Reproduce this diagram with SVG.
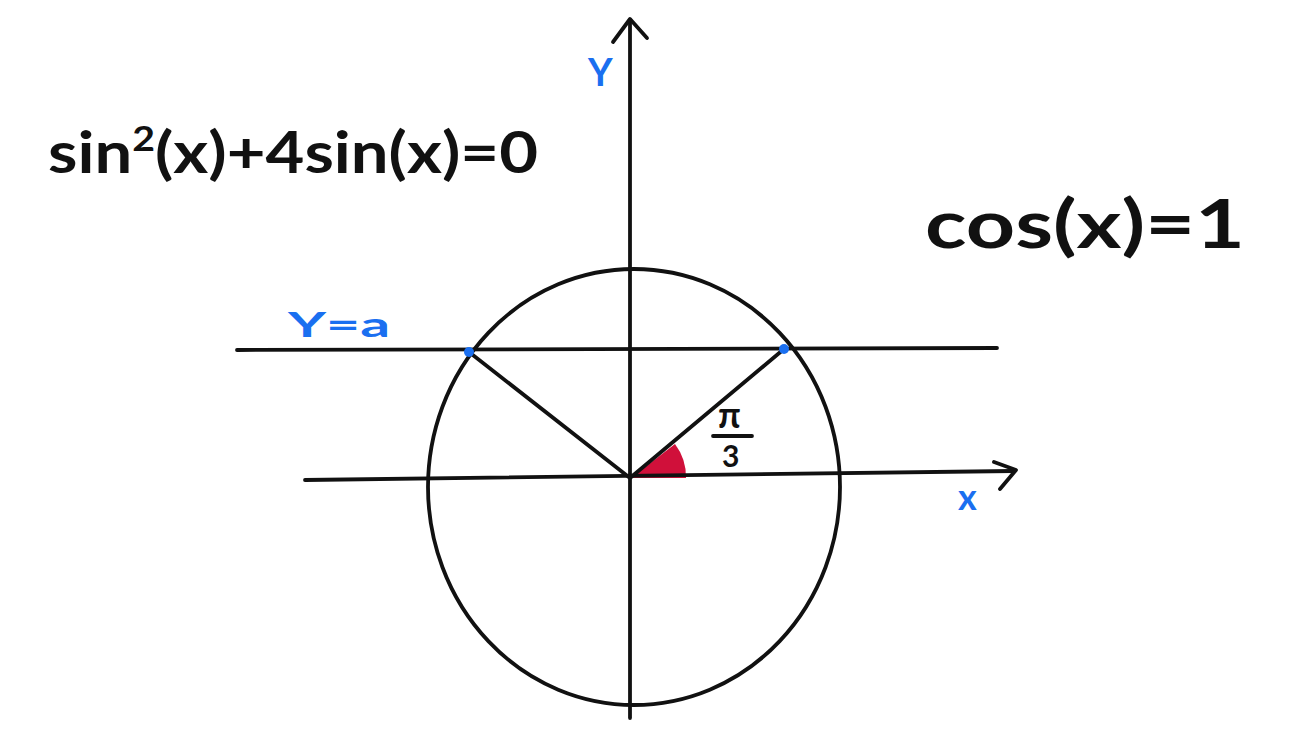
<svg xmlns="http://www.w3.org/2000/svg" width="1310" height="750" viewBox="0 0 1310 750">
<style>
.ln{stroke:#111;stroke-width:3.8;fill:none;stroke-linecap:round;stroke-linejoin:round}
.blk{font-family:"Lato","Liberation Sans",sans-serif;font-weight:bold;fill:#111}
.blu{font-family:"Lato","Liberation Sans",sans-serif;font-weight:bold;fill:#1a6ff0}
</style>
<rect width="1310" height="750" fill="#fff"/>
<g id="circle"><ellipse class="ln" cx="634" cy="487" rx="206" ry="218"/></g>
<g id="sector"><path d="M631,478 L675,444 A55,55 0 0 1 686,478 Z" fill="#d0103a"/></g>
<g id="connectors">
<path class="ln" d="M630,718 L630,20"/>
<path class="ln" d="M613,42 L630,19 L647,38"/>
<path class="ln" d="M305,480 L1013,471"/>
<path class="ln" d="M994,462 L1016,470 L1000,489"/>
<path class="ln" d="M237,350 L997,348"/>
<path class="ln" d="M469,352 L630,478 L784,349"/>
</g>
<g id="points">
<circle cx="469" cy="352" r="5" fill="#1a6ff0"/>
<circle cx="784" cy="349" r="5" fill="#1a6ff0"/>
</g>
<g id="labels">
<text class="blu" x="588" y="86" font-size="38">Y</text>
<text class="blu" x="288" y="337" font-size="34" textLength="102" lengthAdjust="spacingAndGlyphs">Y=a</text>
<text class="blu" x="958" y="510" font-size="36">x</text>
<text class="blk" x="48" y="173" font-size="58" textLength="490" lengthAdjust="spacingAndGlyphs">sin<tspan dy="-22" font-size="34">2</tspan><tspan dy="22">(x)+4sin(x)=0</tspan></text>
<text class="blk" x="925" y="248" font-size="66" textLength="320" lengthAdjust="spacingAndGlyphs">cos(x)=1</text>
<text class="blk" x="718" y="428" font-size="36">π</text>
<path class="ln" d="M713,436 L752,436"/>
<text class="blk" x="722" y="467" font-size="30">3</text>
</g>
</svg>
